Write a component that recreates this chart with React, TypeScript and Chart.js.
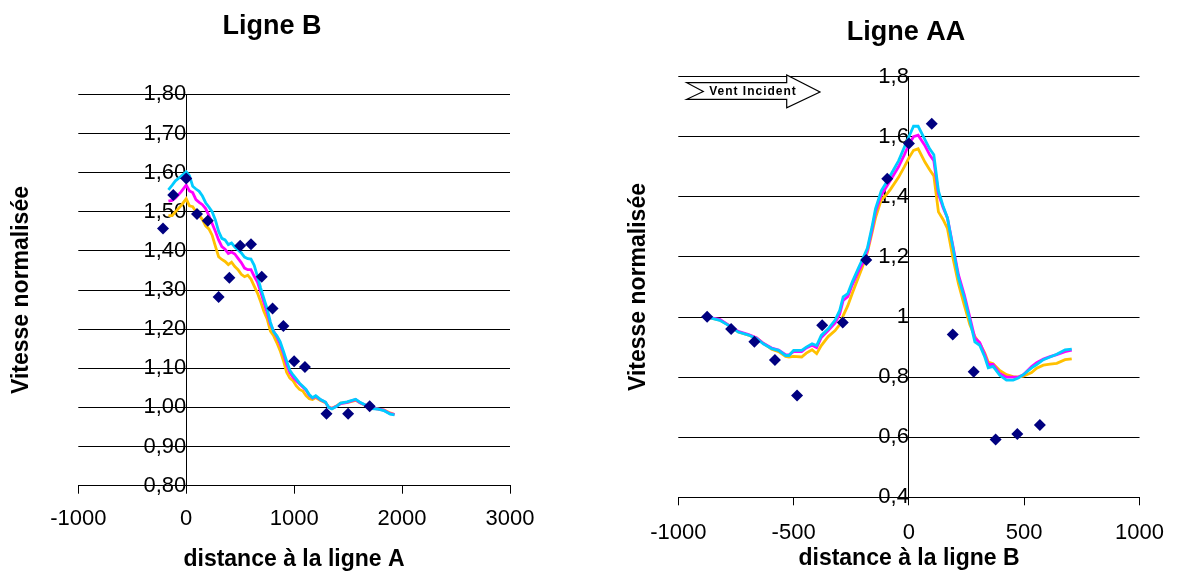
import React, { useEffect, useRef } from "react";
import { Chart, registerables } from "chart.js";

Chart.register(...registerables);

const FONT = "'Liberation Sans', Arial, Helvetica, sans-serif";
const NAVY = "#000080";
const YELLOW = "#FFC000";
const MAGENTA = "#FF00FF";
const CYAN = "#00CCFF";

// ---------- Left chart: "Ligne B" ----------
const bLineX = [-165, -130, -100, -50, 0, 30, 60, 90, 120, 150, 180, 210, 240, 270, 300, 330, 360, 390, 420, 450, 480, 510, 540, 570, 600, 630, 660, 690, 720, 750, 780, 810, 840, 870, 900, 930, 960, 990, 1020, 1050, 1080, 1110, 1140, 1170, 1200, 1240, 1290, 1320, 1350, 1400, 1430, 1490, 1570, 1610, 1660, 1720, 1770, 1830, 1890, 1930];
const bCyan = [1.556, 1.568, 1.579, 1.59, 1.602, 1.592, 1.565, 1.558, 1.552, 1.54, 1.523, 1.512, 1.5, 1.479, 1.45, 1.432, 1.428, 1.416, 1.42, 1.41, 1.402, 1.395, 1.384, 1.38, 1.379, 1.363, 1.335, 1.305, 1.278, 1.252, 1.218, 1.193, 1.183, 1.168, 1.144, 1.119, 1.095, 1.083, 1.073, 1.062, 1.054, 1.046, 1.033, 1.025, 1.03, 1.021, 1.014, 1.0, 0.996, 1.004, 1.011, 1.014, 1.021, 1.013, 1.006, 0.997, 0.996, 0.992, 0.983, 0.981];
const bMagenta = [1.527, 1.529, 1.535, 1.55, 1.568, 1.553, 1.549, 1.531, 1.524, 1.518, 1.508, 1.49, 1.47, 1.45, 1.428, 1.411, 1.404, 1.393, 1.397, 1.392, 1.381, 1.37, 1.356, 1.352, 1.352, 1.335, 1.32, 1.295, 1.268, 1.242, 1.213, 1.195, 1.18, 1.162, 1.139, 1.11, 1.089, 1.077, 1.068, 1.06, 1.052, 1.044, 1.031, 1.024, 1.028, 1.02, 1.013, 1.0, 0.997, 1.004, 1.01, 1.013, 1.02, 1.012, 1.006, 0.998, 0.996, 0.993, 0.984, 0.982];
const bYellow = [1.49, 1.49, 1.5, 1.515, 1.533, 1.515, 1.513, 1.5, 1.491, 1.48, 1.464, 1.456, 1.44, 1.412, 1.385, 1.378, 1.373, 1.365, 1.371, 1.36, 1.352, 1.34, 1.334, 1.338, 1.328, 1.31, 1.292, 1.27, 1.245, 1.226, 1.195, 1.183, 1.165, 1.145, 1.12, 1.09, 1.075, 1.068, 1.055, 1.046, 1.042, 1.03, 1.022, 1.02, 1.025, 1.018, 1.012, 1.001, 0.998, 1.005, 1.011, 1.012, 1.018, 1.012, 1.005, 0.998, 0.996, 0.994, 0.986, 0.982];
const bMeasX = [-215, -120, 0, 100, 200, 300, 400, 500, 600, 700, 800, 900, 1000, 1100, 1300, 1500, 1700];
const bMeasY = [1.457, 1.543, 1.585, 1.494, 1.477, 1.282, 1.331, 1.413, 1.417, 1.334, 1.253, 1.208, 1.118, 1.103, 0.984, 0.984, 1.003];

// ---------- Right chart: "Ligne AA" ----------
const aLineX = [-875, -820, -775, -740, -695, -660, -630, -595, -565, -535, -520, -500, -465, -445, -420, -400, -380, -350, -320, -300, -285, -265, -245, -220, -200, -180, -160, -145, -120, -100, -80, -45, -20, 0, 20, 40, 70, 90, 108, 128, 148, 167, 190, 215, 240, 264, 286, 307, 329, 344, 365, 394, 423, 452, 474, 496, 532, 554, 583, 612, 641, 677, 706];
const aCyan = [1.0, 0.989, 0.969, 0.95, 0.94, 0.928, 0.91, 0.895, 0.889, 0.872, 0.872, 0.889, 0.889, 0.9, 0.911, 0.905, 0.939, 0.961, 0.99, 1.022, 1.067, 1.078, 1.118, 1.161, 1.195, 1.23, 1.3, 1.36, 1.42, 1.445, 1.472, 1.52, 1.565, 1.6, 1.635, 1.635, 1.59, 1.56, 1.54, 1.42, 1.37, 1.33, 1.235, 1.13, 1.065, 0.99, 0.917, 0.906, 0.867, 0.831, 0.836, 0.806, 0.79, 0.79, 0.797, 0.808, 0.831, 0.842, 0.858, 0.867, 0.876, 0.891, 0.893];
const aMagenta = [1.0, 0.992, 0.97, 0.952, 0.942, 0.93, 0.912, 0.897, 0.89, 0.875, 0.874, 0.885, 0.885, 0.897, 0.906, 0.898, 0.932, 0.955, 0.98, 1.01, 1.055, 1.068, 1.108, 1.15, 1.18, 1.222, 1.29, 1.35, 1.405, 1.43, 1.455, 1.5, 1.54, 1.575, 1.6, 1.605, 1.57, 1.54, 1.52, 1.41, 1.365, 1.33, 1.24, 1.14, 1.075, 1.0, 0.93, 0.915, 0.875, 0.842, 0.842, 0.812, 0.8, 0.8, 0.8, 0.808, 0.835, 0.848, 0.86, 0.868, 0.875, 0.885, 0.89];
const aYellow = [1.0, 0.99, 0.97, 0.95, 0.94, 0.93, 0.912, 0.893, 0.885, 0.869, 0.867, 0.869, 0.867, 0.88, 0.891, 0.878, 0.905, 0.935, 0.955, 0.975, 1.005, 1.038, 1.08, 1.13, 1.17, 1.215, 1.28, 1.33, 1.39, 1.405, 1.425, 1.465, 1.5, 1.53, 1.555, 1.56, 1.515, 1.49, 1.47, 1.35, 1.325, 1.295, 1.2, 1.11, 1.04, 0.975, 0.935, 0.912, 0.88, 0.85, 0.845, 0.822, 0.808, 0.802, 0.8, 0.803, 0.815, 0.83, 0.84, 0.843, 0.846, 0.858, 0.861];
const aMeasX = [-875, -771, -670, -581, -485, -376, -287, -185, -94, 0, 99, 190, 281, 376, 470, 568];
const aMeasY = [1.001, 0.96, 0.918, 0.857, 0.739, 0.973, 0.982, 1.19, 1.46, 1.578, 1.643, 0.942, 0.818, 0.592, 0.611, 0.641];

const pts = (xs: number[], ys: number[]) => xs.map((x, i) => ({ x, y: ys[i] }));

const lineDs = (label: string, xs: number[], ys: number[], color: string) => ({
  label,
  data: pts(xs, ys),
  showLine: true,
  borderColor: color,
  backgroundColor: color,
  borderWidth: 2.8,
  pointRadius: 0,
  pointHoverRadius: 0,
  tension: 0,
  fill: false,
});

const measDs = (xs: number[], ys: number[]) => ({
  label: "Mesures",
  data: pts(xs, ys),
  showLine: false,
  pointStyle: "rectRot",
  pointRadius: 6,
  pointBackgroundColor: NAVY,
  pointBorderColor: NAVY,
  pointBorderWidth: 0,
  backgroundColor: NAVY,
  borderColor: NAVY,
});

type TextSpec = {
  title: string; titleX: number; titleY: number;
  xTitle: string; xTitleX: number; xTitleY: number;
  yTitle: string; yTitleX: number; yTitleY: number;
  arrow?: boolean;
};

const textPlugin = (s: TextSpec) => ({
  id: "texts",
  afterDraw(chart: any) {
    const ctx = chart.ctx as CanvasRenderingContext2D;
    ctx.save();
    ctx.fillStyle = "#000";
    ctx.textAlign = "center";
    ctx.textBaseline = "alphabetic";
    ctx.font = `bold 27px ${FONT}`;
    ctx.fillText(s.title, s.titleX, s.titleY);
    ctx.font = `bold 23px ${FONT}`;
    ctx.fillText(s.xTitle, s.xTitleX, s.xTitleY);
    ctx.translate(s.yTitleX, s.yTitleY);
    ctx.rotate(-Math.PI / 2);
    ctx.textBaseline = "middle";
    ctx.fillText(s.yTitle, 0, 0);
    ctx.restore();
    if (s.arrow) {
      ctx.save();
      ctx.beginPath();
      ctx.moveTo(96.7, 82.7);
      ctx.lineTo(196.7, 82.7);
      ctx.lineTo(196.7, 75);
      ctx.lineTo(230, 92);
      ctx.lineTo(196.7, 107.7);
      ctx.lineTo(196.7, 99.3);
      ctx.lineTo(96.7, 99.3);
      ctx.lineTo(113.3, 91.5);
      ctx.closePath();
      ctx.fillStyle = "#fff";
      ctx.fill();
      ctx.strokeStyle = "#000";
      ctx.lineWidth = 1.2;
      ctx.stroke();
      ctx.fillStyle = "#000";
      ctx.font = `bold 12px ${FONT}`;
      (ctx as any).letterSpacing = "1px";
      ctx.textAlign = "center";
      ctx.textBaseline = "middle";
      ctx.fillText("Vent Incident", 163, 92);
      ctx.restore();
    }
  },
});

const makeConfig = (o: {
  datasets: any[];
  xMin: number; xMax: number; xStep: number;
  yMin: number; yMax: number; yStep: number;
  yFmt: (v: number) => string;
  padding: { left: number; right: number; top: number; bottom: number };
  xPad: number; yPad: number; yTick: number;
  text: TextSpec;
}): any => ({
  type: "scatter",
  data: { datasets: o.datasets },
  options: {
    responsive: false,
    animation: false,
    devicePixelRatio: 1,
    layout: { padding: o.padding },
    plugins: { legend: { display: false }, tooltip: { enabled: false }, title: { display: false } },
    scales: {
      x: {
        type: "linear",
        position: "bottom",
        min: o.xMin,
        max: o.xMax,
        afterFit: (s: any) => { s.height = 60; },
        ticks: {
          stepSize: o.xStep,
          autoSkip: false,
          maxRotation: 0,
          padding: o.xPad,
          color: "#000",
          font: { family: FONT, size: 22 },
          callback: (v: any) => String(v),
        },
        grid: { drawOnChartArea: false, drawTicks: true, tickLength: 8, color: "#000", tickColor: "#000", lineWidth: 1 },
        border: { display: true, color: "#000", width: 1 },
      },
      y: {
        type: "linear",
        position: { x: 0 },
        min: o.yMin,
        max: o.yMax,
        ticks: {
          stepSize: o.yStep,
          padding: o.yPad,
          color: "#000",
          font: { family: FONT, size: 22 },
          callback: (v: any) => o.yFmt(Number(v)),
        },
        grid: { color: "#000", tickColor: "#000", lineWidth: 1, drawTicks: true, tickLength: o.yTick },
        border: { display: true, color: "#000", width: 1 },
      },
    },
  },
  plugins: [textPlugin(o.text)],
});

const leftConfig = () =>
  makeConfig({
    datasets: [
      measDs(bMeasX, bMeasY),
      lineDs("Calcul 3", bLineX, bCyan, CYAN),
      lineDs("Calcul 2", bLineX, bMagenta, MAGENTA),
      lineDs("Calcul 1", bLineX, bYellow, YELLOW),
    ],
    xMin: -1000, xMax: 3000, xStep: 1000,
    yMin: 0.8, yMax: 1.8, yStep: 0.1,
    yFmt: (v) => v.toFixed(2).replace(".", ","),
    padding: { left: 78.3, right: 70, top: 94.3, bottom: 27.3 },
    xPad: 12, yPad: 12, yTick: 5,
    text: {
      title: "Ligne B", titleX: 272, titleY: 34,
      xTitle: "distance à la ligne A", xTitleX: 294, xTitleY: 566,
      yTitle: "Vitesse normalisée", yTitleX: 22, yTitleY: 290,
    },
  });

const rightConfig = () =>
  makeConfig({
    datasets: [
      measDs(aMeasX, aMeasY),
      lineDs("Calcul 3", aLineX, aCyan, CYAN),
      lineDs("Calcul 2", aLineX, aMagenta, MAGENTA),
      lineDs("Calcul 1", aLineX, aYellow, YELLOW),
    ],
    xMin: -1000, xMax: 1000, xStep: 500,
    yMin: 0.4, yMax: 1.8, yStep: 0.2,
    yFmt: (v) => String(Math.round(v * 10) / 10).replace(".", ","),
    padding: { left: 88.3, right: 36.3, top: 76.7, bottom: 15.7 },
    xPad: 14, yPad: 14, yTick: 6,
    text: {
      title: "Ligne AA", titleX: 316, titleY: 40,
      xTitle: "distance à la ligne B", xTitleX: 319, xTitleY: 565,
      yTitle: "Vitesse normalisée", yTitleX: 48.5, yTitleY: 287,
      arrow: true,
    },
  });

function Panel({ left, width, build }: { left: number; width: number; build: () => any }) {
  const ref = useRef<HTMLCanvasElement>(null);
  useEffect(() => {
    const chart = new Chart(ref.current as HTMLCanvasElement, build());
    return () => chart.destroy();
  }, []);
  return (
    <canvas
      ref={ref}
      width={width}
      height={573}
      style={{ position: "absolute", left, top: 0, width, height: 573, display: "block" }}
    />
  );
}

export default function App() {
  return (
    <div style={{ position: "fixed", left: 0, top: 0, width: 1178, height: 573, background: "#fff", overflow: "hidden" }}>
      <Panel left={0} width={580} build={leftConfig} />
      <Panel left={590} width={588} build={rightConfig} />
    </div>
  );
}
